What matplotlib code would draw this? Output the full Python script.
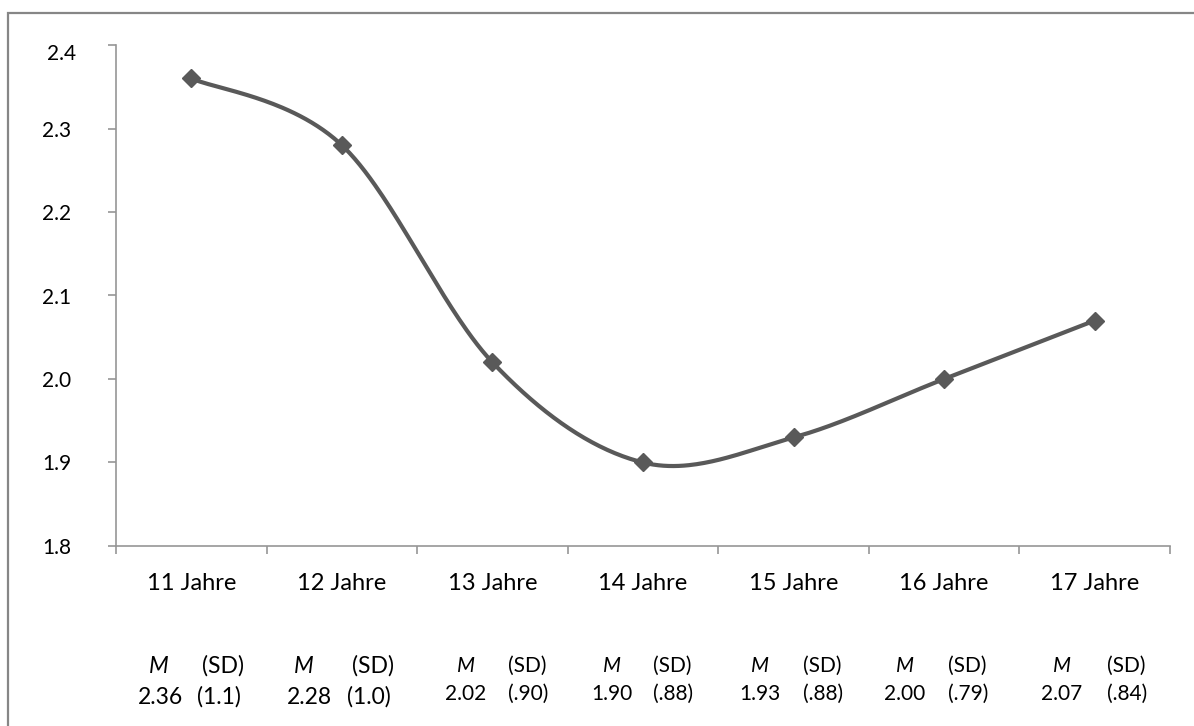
import numpy as np
import matplotlib
matplotlib.use("Agg")
import matplotlib.pyplot as plt
import matplotlib.transforms as mtransforms
from matplotlib.patches import Rectangle

plt.rcParams['font.family'] = ['Lato', 'DejaVu Sans']

categories = ["11 Jahre", "12 Jahre", "13 Jahre", "14 Jahre", "15 Jahre", "16 Jahre", "17 Jahre"]
means = [2.36, 2.28, 2.02, 1.90, 1.93, 2.00, 2.07]
mean_labels = ["2.36", "2.28", "2.02", "1.90", "1.93", "2.00", "2.07"]
sd_labels = ["(1.1)", "(1.0)", "(.90)", "(.88)", "(.88)", "(.79)", "(.84)"]
yticks = [1.8, 1.9, 2.0, 2.1, 2.2, 2.3, 2.4]
ytick_labels = ["1.8", "1.9", "2.0", "2.1", "2.2", "2.3", "2.4"]

W, H = 1194, 726
fig = plt.figure(figsize=(W / 100, H / 100), dpi=100)
fig.patch.set_facecolor("white")

# figure border (extends beyond right/bottom edges)
fig.add_artist(Rectangle((8 / W, -0.05), 1.2, (H - 13) / H + 0.05,
                         transform=fig.transFigure, fill=False,
                         edgecolor="#868686", linewidth=1.6))

ax_l, ax_r = 116, 1170
ax_t, ax_b = 45, 546
ax = fig.add_axes([ax_l / W, 1 - ax_b / H, (ax_r - ax_l) / W, (ax_b - ax_t) / H])
ax.set_xlim(-0.5, len(categories) - 0.5)
ax.set_ylim(1.8, 2.4)
for s in ["top", "right"]:
    ax.spines[s].set_visible(False)
for s in ["left", "bottom"]:
    ax.spines[s].set_color("#969696")
    ax.spines[s].set_linewidth(1.2)

ax.set_yticks(yticks)
ax.set_yticklabels(ytick_labels)
ax.tick_params(axis="y", length=6, width=1.2, color="#969696", pad=26, labelsize=15)
# Excel quirk: top label sits slightly right/down
top_lbl = ax.get_yticklabels()[-1]
top_lbl.set_transform(top_lbl.get_transform() +
                      mtransforms.ScaledTranslation(5 / 100, -7 / 100, fig.dpi_scale_trans))
ax.set_xticks(np.arange(len(categories) + 1) - 0.5)
ax.set_xticklabels([])
ax.tick_params(axis="x", length=6, width=1.2, color="#969696")

px_per_cat = (ax_r - ax_l) / len(categories)
for i, c in enumerate(categories):
    cx = ax_l + (i + 0.5) * px_per_cat
    fig.text(cx / W, 1 - 590 / H, c, ha="center", va="baseline", fontsize=17, color="black")

# smoothed line (Bezier spline in display space, like Excel)
fig.canvas.draw()
x = np.arange(len(means), dtype=float)
pts = ax.transData.transform(np.column_stack([x, means]))
curve = []
n = len(pts)
t = np.linspace(0, 1, 60)
for i in range(n - 1):
    p0 = pts[i - 1] if i > 0 else pts[i]
    p1 = pts[i]
    p2 = pts[i + 1]
    p3 = pts[i + 2] if i + 2 < n else pts[i + 1]
    c1 = p1 + (p2 - p0) / 6.0
    c2 = p2 - (p3 - p1) / 6.0
    seg = ((1 - t) ** 3)[:, None] * p1 + (3 * (1 - t) ** 2 * t)[:, None] * c1 + \
          (3 * (1 - t) * t ** 2)[:, None] * c2 + (t ** 3)[:, None] * p2
    curve.append(seg)
curve = np.vstack(curve)
curve_data = ax.transData.inverted().transform(curve)
ax.plot(curve_data[:, 0], curve_data[:, 1], color="#595959", linewidth=3.0,
        solid_capstyle="round", clip_on=False, zorder=3)
ax.plot(x, means, linestyle="none", marker="D", markersize=9.5, color="#595959",
        clip_on=False, zorder=4)

# M / SD annotation rows (pixel offsets from category centre)
m_off = [-33, -38, -26, -31, -34, -39, -33]
v_off = [-31, -32, -27, -31, -34, -40, -33]
sdh_off = [11, 10, 16, 10, 9, 4, 12]
sdv_off = [6, 5, 16, 10, 9, 4, 12]
row1_y = [673, 673, 672, 672, 672, 672, 672]
row2_y = [704, 704, 700, 700, 700, 700, 700]
fsz = [16.5, 16.5, 15, 15, 15, 15, 15]
for i in range(len(categories)):
    cx = ax_l + (i + 0.5) * px_per_cat
    fig.text((cx + m_off[i]) / W, 1 - row1_y[i] / H, "M", style="italic",
             ha="center", va="baseline", fontsize=fsz[i])
    fig.text((cx + sdh_off[i]) / W, 1 - row1_y[i] / H, "(SD)",
             ha="left", va="baseline", fontsize=fsz[i])
    fig.text((cx + v_off[i]) / W, 1 - row2_y[i] / H, mean_labels[i],
             ha="center", va="baseline", fontsize=fsz[i])
    fig.text((cx + sdv_off[i]) / W, 1 - row2_y[i] / H, sd_labels[i],
             ha="left", va="baseline", fontsize=fsz[i])

fig.savefig("out.png", dpi=100)
